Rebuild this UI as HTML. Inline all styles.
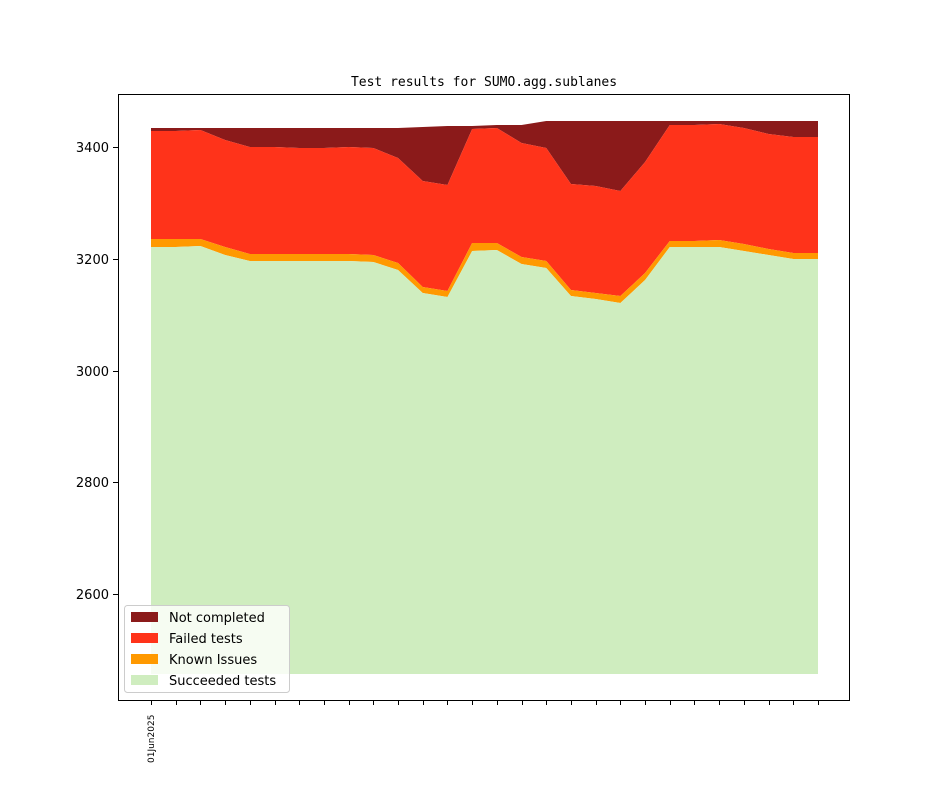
<!DOCTYPE html>
<html><head><meta charset="utf-8"><style>body{margin:0;background:#fff}svg{display:block}text{font-family:"DejaVu Sans","Liberation Sans",sans-serif}</style></head>
<body>
<svg id="s" width="944" height="787" xmlns="http://www.w3.org/2000/svg">
<g id="areas"></g>
<rect x="118.5" y="94.5" width="731" height="606" fill="none" stroke="#000" stroke-width="1"/>
<text x="484" y="86" text-anchor="middle" font-size="13" style="font-family:'DejaVu Sans Mono','Liberation Mono',monospace">Test results for SUMO.agg.sublanes</text>
<g font-size="13" text-anchor="end">
<line x1="113" x2="118" y1="147.5" y2="147.5" stroke="#000"/><text x="109" y="152">3400</text>
<line x1="113" x2="118" y1="259.5" y2="259.5" stroke="#000"/><text x="109" y="264">3200</text>
<line x1="113" x2="118" y1="371.5" y2="371.5" stroke="#000"/><text x="109" y="376">3000</text>
<line x1="113" x2="118" y1="482.5" y2="482.5" stroke="#000"/><text x="109" y="487">2800</text>
<line x1="113" x2="118" y1="594.5" y2="594.5" stroke="#000"/><text x="109" y="599">2600</text>
</g>
<g id="xt"></g>
<text transform="translate(154,763) rotate(-90)" font-size="9">01Jun2025</text>
<rect x="124.5" y="605.5" width="165" height="87" rx="3" fill="#fff" fill-opacity="0.8" stroke="#ccc"/>
<rect x="131" y="612" width="27" height="10" fill="#8b1a1a"/>
<rect x="131" y="633" width="27" height="10" fill="#ff331a"/>
<rect x="131" y="654" width="27" height="10" fill="#ff9900"/>
<rect x="131" y="675" width="27" height="10" fill="#cfedbf"/>
<g font-size="13" fill="#000">
<text x="169" y="622">Not completed</text>
<text x="169" y="643">Failed tests</text>
<text x="169" y="664">Known Issues</text>
<text x="169" y="685">Succeeded tests</text>
</g>
</svg>
<script>
var top_=[128,128,128,128,128,128,128,128,128,128,128,127,126,126,125,125,121,121,121,121,121,121,121,121,121,121,121,121];
var f=[131,131,130,140,147,147,148,148,147,148,158,181,185,129,128,143,148,184,186,191,162,125,125,124,128,134,137,137];
var k=[239,239,239,247,254,254,254,254,254,255,263,287,291,243,243,257,261,290,293,296,273,241,241,240,244,249,253,253];
var g=[247,247,246,255,261,261,261,261,261,262,270,293,297,251,250,264,268,296,299,303,280,247,247,247,251,255,259,259];
var X=i=>151+i*(667/27);
function poly(a,b,c){var p=[];for(var i=0;i<28;i++)p.push(X(i)+','+a[i]);for(var i=27;i>=0;i--)p.push(X(i)+','+b[i]);return '<polygon points="'+p.join(' ')+'" fill="'+c+'"/>';}
var bot=new Array(28).fill(674);
document.getElementById('areas').innerHTML=poly(top_,f,'#8b1a1a')+poly(f,k,'#ff331a')+poly(k,g,'#ff9900')+poly(g,bot,'#cfedbf');
var t='';for(var i=0;i<28;i++){var x=Math.round(X(i))+0.5;t+='<line x1="'+x+'" x2="'+x+'" y1="700" y2="705" stroke="#000"/>';}
document.getElementById('xt').innerHTML=t;
</script>
</body></html>
